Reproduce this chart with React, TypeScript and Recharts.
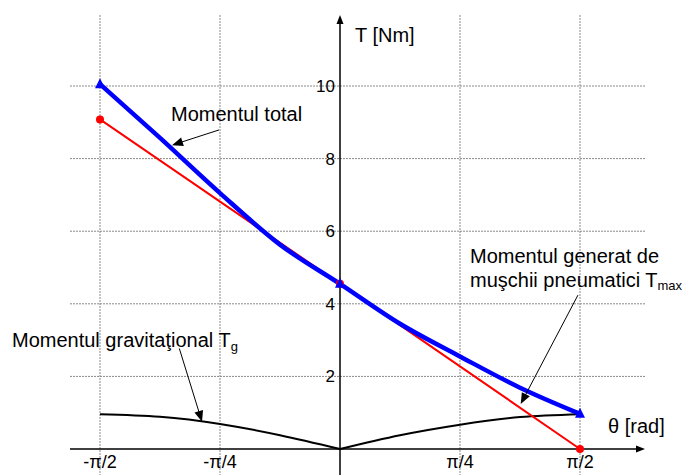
import React from 'react';
import { LineChart, Line, XAxis, YAxis, CartesianGrid, ReferenceLine, ReferenceDot } from 'recharts';

// θ is expressed in units of π/4 (so -2 = -π/2, 2 = π/2)
const xTickValues = [-2, -1, 1, 2];
const xTickLabels = ['-π/2', '-π/4', 'π/4', 'π/2'];
const yTickValues = [2, 4, 6, 8, 10];
const yTickLabels = ['2', '4', '6', '8', '10'];

// Momentul total (blue)
const totalTheta = [-2, -1.5, -1, -0.5, 0, 0.5, 1, 1.5, 2];
const totalT = [10.05, 8.57, 7.05, 5.63, 4.55, 3.45, 2.55, 1.69, 0.97];
const totalMarkerTheta = [-2, 0, 2];

// Momentul generat de muşchii pneumatici (red)
const muscleTheta = [-2, 0, 2];
const muscleT = [9.08, 4.55, 0];

// Momentul gravitaţional (black)
const gravLeftTheta = [-2, -1.5, -1, -0.5, 0];
const gravLeftT = [0.96, 0.89, 0.69, 0.38, 0];
const gravRightTheta = [0, 0.5, 1, 1.5, 2];
const gravRightT = [0, 0.38, 0.67, 0.88, 0.96];

// annotation pointers, in data coordinates [start, tip]
const pointerTotal = [{ x: -1.008, y: 8.79 }, { x: -1.4, y: 8.37 }];
const pointerMuscle = [{ x: 1.983, y: 4.24 }, { x: 1.506, y: 1.24 }];
const pointerGrav = [{ x: -1.339, y: 2.77 }, { x: -1.15, y: 0.75 }];

const X_DOMAIN: [number, number] = [-2.25, 2.5417];
const Y_DOMAIN: [number, number] = [-0.716, 11.956];

const totalData = totalTheta.map((q, i) => ({ q, T: totalT[i] }));
const muscleData = muscleTheta.map((q, i) => ({ q, T: muscleT[i] }));
const gravLeftData = gravLeftTheta.map((q, i) => ({ q, T: gravLeftT[i] }));
const gravRightData = gravRightTheta.map((q, i) => ({ q, T: gravRightT[i] }));

const arrowShape = (len: number, half: number, width: number) => (p: any) => {
  const { x1, y1, x2, y2 } = p;
  const dx = x2 - x1;
  const dy = y2 - y1;
  const L = Math.hypot(dx, dy) || 1;
  const ux = dx / L;
  const uy = dy / L;
  const bx = x2 - ux * len;
  const by = y2 - uy * len;
  const pts = `${x2},${y2} ${bx - uy * half},${by + ux * half} ${bx + uy * half},${by - ux * half}`;
  return (
    <g>
      <line x1={x1} y1={y1} x2={bx + ux * 1} y2={by + uy * 1} stroke="#000" strokeWidth={width} />
      <polygon points={pts} fill="#000" />
    </g>
  );
};

const triangleDot = (props: any) => {
  const { cx, cy, payload, index } = props;
  if (!totalMarkerTheta.includes(payload.q)) return <g key={`td${index}`} />;
  const s = 5;
  return (
    <polygon
      key={`td${index}`}
      points={`${cx},${cy - s - 1} ${cx - s},${cy + s - 1} ${cx + s},${cy + s - 1}`}
      fill="#0000ff"
    />
  );
};

const redDot = (props: any) => {
  const { cx, cy, index } = props;
  return <circle key={`rd${index}`} cx={cx} cy={cy} r={4} fill="#ff0000" />;
};

export default function App() {
  return (
    <div
      style={{
        position: 'absolute',
        left: 0,
        top: 0,
        width: 684,
        height: 475,
        background: '#fff',
        fontFamily: '"Liberation Sans", Arial, sans-serif',
      }}
    >
      <LineChart width={684} height={475} margin={{ top: 15, right: 39, bottom: 0, left: 70 }}>
        <XAxis dataKey="q" type="number" domain={X_DOMAIN} hide allowDataOverflow />
        <YAxis type="number" domain={Y_DOMAIN} hide allowDataOverflow />
        <CartesianGrid
          horizontalValues={yTickValues}
          verticalValues={xTickValues}
          stroke="#8a8a8a"
          strokeDasharray="2 1"
        />
        <ReferenceLine
          segment={[{ x: X_DOMAIN[0], y: 0 }, { x: X_DOMAIN[1], y: 0 }]}
          ifOverflow="visible"
          shape={arrowShape(9, 3.5, 1.5)}
        />
        <ReferenceLine
          segment={[{ x: 0, y: Y_DOMAIN[0] }, { x: 0, y: Y_DOMAIN[1] }]}
          ifOverflow="visible"
          shape={arrowShape(9, 3.5, 1.5)}
        />
        <Line data={gravLeftData} dataKey="T" type="natural" stroke="#000" strokeWidth={2} dot={false} activeDot={false} isAnimationActive={false} />
        <Line data={gravRightData} dataKey="T" type="natural" stroke="#000" strokeWidth={2} dot={false} activeDot={false} isAnimationActive={false} />
        <Line data={muscleData} dataKey="T" type="linear" stroke="#ff0000" strokeWidth={2} dot={redDot} activeDot={false} isAnimationActive={false} />
        <Line data={totalData} dataKey="T" type="monotone" stroke="#0000ff" strokeWidth={4.5} dot={triangleDot} activeDot={false} isAnimationActive={false} />
        <ReferenceLine segment={pointerTotal} ifOverflow="visible" shape={arrowShape(11, 4.5, 1)} />
        <ReferenceLine segment={pointerMuscle} ifOverflow="visible" shape={arrowShape(11, 4.5, 1)} />
        <ReferenceLine segment={pointerGrav} ifOverflow="visible" shape={arrowShape(11, 4.5, 1)} />
        {yTickValues.map((v, i) => (
          <ReferenceDot
            key={`yt${v}`}
            x={0}
            y={v}
            r={0}
            fill="none"
            stroke="none"
            label={{ value: yTickLabels[i], position: 'left', offset: 5, fontSize: 17, fill: '#000' }}
          />
        ))}
        {xTickValues.map((v, i) => (
          <ReferenceDot
            key={`xt${v}`}
            x={v}
            y={0}
            r={0}
            fill="none"
            stroke="none"
            label={{ value: xTickLabels[i], position: 'bottom', offset: 6, fontSize: 18, fill: '#000' }}
          />
        ))}
      </LineChart>
      <svg
        width={684}
        height={475}
        style={{ position: 'absolute', left: 0, top: 0, pointerEvents: 'none' }}
        fontFamily='"Liberation Sans", Arial, sans-serif'
      >
        <text x={355} y={42} fontSize={20} fill="#000">T [Nm]</text>
        <text x={171} y={121} fontSize={20} fill="#000">Momentul total</text>
        <text x={470} y={263} fontSize={20} fill="#000">Momentul generat de</text>
        <text x={470} y={287} fontSize={20} fill="#000">
          muşchii pneumatici T<tspan fontSize={13} dy={3}>max</tspan>
        </text>
        <text x={12} y={347} fontSize={20} fill="#000">
          Momentul gravitaţional T<tspan fontSize={13} dy={4}>g</tspan>
        </text>
        <text x={608} y={433} fontSize={20} fill="#000">θ [rad]</text>
      </svg>
    </div>
  );
}
